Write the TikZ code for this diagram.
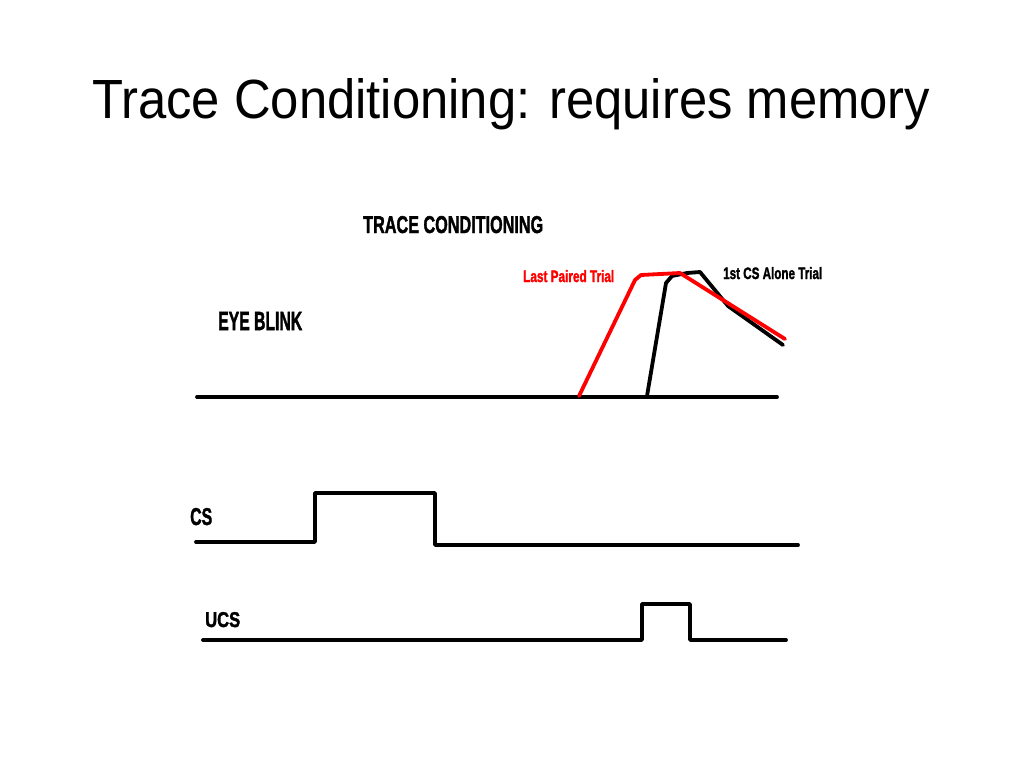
\documentclass[tikz,border=0pt]{standalone}
\usepackage{fontspec}
\setmainfont{Liberation Sans}
\newfontfamily\heavyfont{Liberation Sans Bold}[FakeBold=2]
\newcommand\condtxt[3]{\resizebox{#1}{#2}{\heavyfont #3}}
\begin{document}
\begin{tikzpicture}[x=1pt,y=-1pt,
  wave/.style={line width=3.8pt,line join=round,line cap=round},
  redwave/.style={wave,color=red},
  lbl/.style={inner sep=0pt,anchor=base west}]
\useasboundingbox[fill=white] (0,0) rectangle (1024,768);
% title
\node[lbl] (title) at (92,118) {\resizebox{838pt}{40pt}{Trace Conditioning: requires memory}};
% labels
\node[lbl] (tc) at (363,233) {\condtxt{180pt}{17pt}{TRACE CONDITIONING}};
\node[lbl] (eb) at (218,330) {\condtxt{84pt}{18pt}{EYE BLINK}};
\node[lbl,text=red] (lpt) at (523,282) {\condtxt{91pt}{12pt}{Last Paired Trial}};
\node[lbl] (csa) at (723,279) {\condtxt{99pt}{12pt}{1st CS Alone Trial}};
\node[lbl] (cs) at (190,525) {\condtxt{22pt}{17pt}{CS}};
\node[lbl] (ucs) at (205,627) {\condtxt{35pt}{15pt}{UCS}};
% eye blink baseline
\coordinate (b0) at (197,397);
\coordinate (b1) at (777,397);
\draw[wave] (b0) -- (b1);
% 1st CS alone trial (black)
\coordinate (k0) at (647,396);
\coordinate (k1) at (666,283);
\coordinate (k2) at (672,276);
\coordinate (k3) at (687,273);
\coordinate (k4) at (700,272);
\coordinate (k5) at (728,306);
\coordinate (k6) at (783,345);
\draw[wave] (k0) -- (k1) -- (k2) -- (k3) -- (k4) -- (k5) -- (k6);
% last paired trial (red)
\coordinate (r0) at (579,396);
\coordinate (r1) at (635,280);
\coordinate (r2) at (641,275);
\coordinate (r3) at (680,273);
\coordinate (r4) at (785,339);
\draw[redwave] (r0) -- (r1) -- (r2) -- (r3) -- (r4);
% CS
\coordinate (c0) at (196,542);
\coordinate (c1) at (315,542);
\coordinate (c2) at (315,493);
\coordinate (c3) at (435,493);
\coordinate (c4) at (435,545);
\coordinate (c5) at (798,545);
\draw[wave] (c0) -- (c1) -- (c2) -- (c3) -- (c4) -- (c5);
% UCS
\coordinate (u0) at (203,640);
\coordinate (u1) at (642,640);
\coordinate (u2) at (642,604);
\coordinate (u3) at (690,604);
\coordinate (u4) at (690,640);
\coordinate (u5) at (786,640);
\draw[wave] (u0) -- (u1) -- (u2) -- (u3) -- (u4) -- (u5);
\end{tikzpicture}
\end{document}
